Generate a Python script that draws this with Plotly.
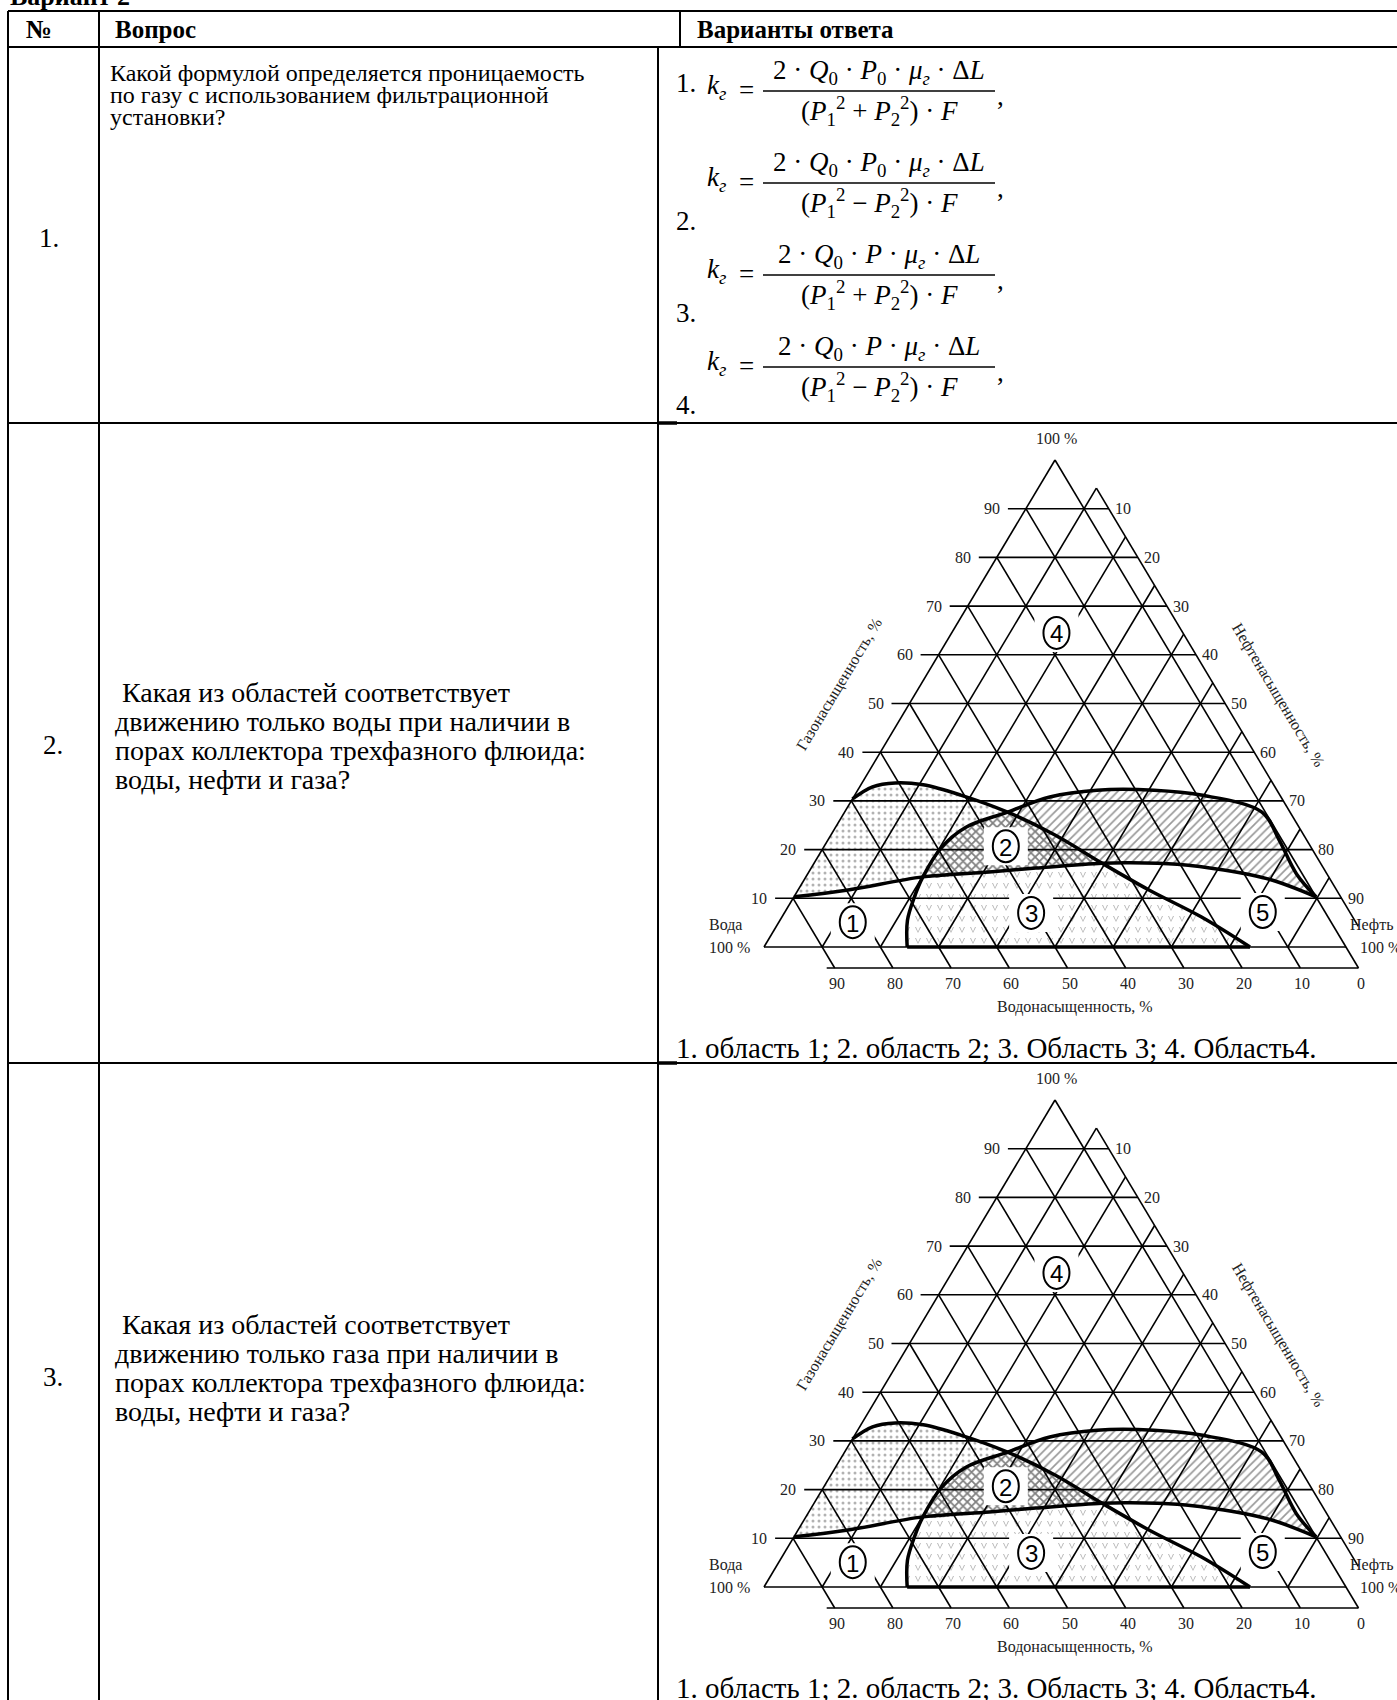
import plotly.graph_objects as go

SERIF = 'Liberation Serif'

# ---------------- table text ----------------
header_titles = ['№', 'Вопрос', 'Варианты ответа']
row_numbers = ['1.', '2.', '3.']
question_1 = ['Какой формулой определяется проницаемость',
              'по газу с использованием фильтрационной',
              'установки?']
question_2 = [' Какая из областей соответствует',
              'движению только воды при наличии в',
              'порах коллектора трехфазного флюида:',
              'воды, нефти и газа?']
question_3 = [' Какая из областей соответствует',
              'движению только газа при наличии в',
              'порах коллектора трехфазного флюида:',
              'воды, нефти и газа?']
answer_line = '1. область 1; 2. область 2; 3. Область 3; 4. Область4.'

# ---------------- formula answers ----------------
formula_numbers = ['1.', '2.', '3.', '4.']
numerators = [
    '2 · <i>Q</i><sub>0</sub> · <i>P</i><sub>0</sub> · <i>μ</i><sub><i>г</i></sub> · Δ<i>L</i>',
    '2 · <i>Q</i><sub>0</sub> · <i>P</i><sub>0</sub> · <i>μ</i><sub><i>г</i></sub> · Δ<i>L</i>',
    '2 · <i>Q</i><sub>0</sub> · <i>P</i> · <i>μ</i><sub><i>г</i></sub> · Δ<i>L</i>',
    '2 · <i>Q</i><sub>0</sub> · <i>P</i> · <i>μ</i><sub><i>г</i></sub> · Δ<i>L</i>',
]
denominators = [
    '(<i>P</i><sub>1</sub><sup>2</sup> + <i>P</i><sub>2</sub><sup>2</sup>) · <i>F</i>',
    '(<i>P</i><sub>1</sub><sup>2</sup> − <i>P</i><sub>2</sub><sup>2</sup>) · <i>F</i>',
    '(<i>P</i><sub>1</sub><sup>2</sup> + <i>P</i><sub>2</sub><sup>2</sup>) · <i>F</i>',
    '(<i>P</i><sub>1</sub><sup>2</sup> − <i>P</i><sub>2</sub><sup>2</sup>) · <i>F</i>',
]

# ---------------- ternary diagram data (oil %, gas %) ----------------
gas_ticks = [10, 20, 30, 40, 50, 60, 70, 80, 90]
oil_ticks = [10, 20, 30, 40, 50, 60, 70, 80, 90]
water_ticks = [90, 80, 70, 60, 50, 40, 30, 20, 10, 0]

# long low arch
curve_a = [(0, 10.3), (8.6, 11.7), (20.1, 14.4), (31.0, 15.4), (38.6, 16.2), (49.5, 17.2),
           (54.3, 17.3), (62.5, 17.0), (71.1, 15.8), (80.2, 13.8), (89.7, 10.3)]
# left dome going down to the base
curve_b = [(0, 30.4), (2.2, 32.9), (5.7, 33.7), (10.7, 33.3), (18.2, 31.2), (28.0, 27.7),
           (38.5, 23.0), (49.5, 17.2), (60.3, 11.7), (72.0, 6.2), (83.5, 0)]
# boundary rising from the base and arching to the right
curve_c = [(24.6, 0), (21.9, 5.5), (20.7, 10.3), (20.1, 14.4), (20.3, 20.5), (22.4, 24.6),
           (28.0, 27.7), (33.7, 30.8), (41.1, 32.2), (50.9, 32.2), (59.5, 31.2), (71.7, 27.7),
           (77.5, 22.0), (84.0, 15.0), (89.7, 10.3)]

zone_names = ['1', '2', '3', '4', '5']
zone_oil = [12.7, 31.2, 42.4, 18.0, 82.1]
zone_gas = [5.1, 20.7, 7.0, 64.5, 7.2]

# ---------------- geometry ----------------
W, H = 1397, 1700
TOP, HEAD, ROW1, ROW2 = 11, 47, 423, 1063
XL, XC1, XC2, XHEAD = 8, 99, 658, 680
ROW_SHIFT = 640
TEXT_SHIFT = 632
BARS = [91, 183, 275, 367]

LEFT, WIDTH, HEIGHT = 764, 582, 487
BASES = [947, 947 + ROW_SHIFT]
EXT_L = 18                 # gas lines beyond left edge
OFF_R = (12.3, -20.6)      # oil lines beyond right edge
OFF_B = (12.5, 21.0)       # water lines below base


def tern(so, g, base):
    return LEFT + (so + g / 2.0) / 100.0 * WIDTH, base - g / 100.0 * HEIGHT


def to_xy(points, base):
    pts = [tern(so, g, base) for so, g in points]
    return [p[0] for p in pts], [p[1] for p in pts]


fig = go.Figure()


def text(x, y, s, size, anchor='left', bold=False, angle=0, color='black'):
    if bold:
        s = '<b>' + s + '</b>'
    fig.add_annotation(x=x, y=y, text=s, showarrow=False, xanchor=anchor, yanchor='middle',
                       textangle=angle, font=dict(family=SERIF, size=size, color=color))


def hline(x0, x1, y, w=2):
    fig.add_shape(type='line', x0=x0, x1=x1, y0=y, y1=y, line=dict(color='black', width=w))


def vline(x, y0, y1, w=2):
    fig.add_shape(type='line', x0=x, x1=x, y0=y0, y1=y1, line=dict(color='black', width=w))


# ---------------- table ----------------
for y in [TOP, HEAD, ROW1, ROW2]:
    hline(XL, W, y)
vline(XL, TOP, H)
vline(XC1, TOP, H)
vline(XHEAD, TOP, HEAD)
vline(XC2, HEAD, H)
hline(XC2, XC2 + 19, ROW1, 3.5)
hline(XC2, XC2 + 19, ROW2, 3.5)

fig.add_annotation(x=XL, y=13, text='<b>Вариант 2</b>', showarrow=False, xanchor='left',
                   yanchor='bottom', font=dict(family=SERIF, size=26, color='black'))
text(39, 29, header_titles[0], 26, 'center', bold=True)
text(113, 29, header_titles[1], 25, bold=True)
text(695, 29, header_titles[2], 25, bold=True)

text(49, 238, row_numbers[0], 27, 'center')
text(53, 745, row_numbers[1], 27, 'center')
text(53, 745 + TEXT_SHIFT, row_numbers[2], 27, 'center')

for i, line in enumerate(question_1):
    text(108, 73 + 22 * i, line, 24)
for i, line in enumerate(question_2):
    text(113, 692 + 29 * i, line, 28)
for i, line in enumerate(question_3):
    text(113, 692 + TEXT_SHIFT + 29 * i, line, 28)

# formulas
for i, by in enumerate(BARS):
    if i == 0:
        text(674, by - 8, formula_numbers[i], 27)
    else:
        text(674, by + 38, formula_numbers[i], 27)
    text(705, by - 4, '<i>k</i><sub><i>г</i></sub>', 27)
    text(746, by - 1, '=', 27, 'center')
    text(879, by - 19, numerators[i], 27, 'center')
    text(879, by + 20, denominators[i], 27, 'center')
    hline(763, 995, by, 1.5)
    text(1000, by + 5, ',', 27, 'center')

# ---------------- ternary diagrams ----------------
region_dots = curve_b[:6] + curve_c[3:6][::-1] + curve_a[:3][::-1]
region_cross = curve_c[3:7] + curve_b[5:8] + curve_a[2:6][::-1]
region_hatch = curve_c[6:] + curve_a[5:][::-1] + curve_b[5:8][::-1]
region_vees = curve_c[:4] + curve_a[2:6] + curve_b[7:]

patterns = [
    (region_dots, dict(shape='.', size=6, solidity=0.2, fgcolor='#666666', bgcolor='white')),
    (region_vees, dict(path='M2,3L5,9L8,3L7,3L5,7.4L3,3Z', size=11, fgcolor='#666666', bgcolor='white')),
    (region_cross, dict(shape='x', size=6, solidity=0.5, fgcolor='#000000', bgcolor='white')),
    (region_hatch, dict(shape='/', size=6, solidity=0.28, fgcolor='#333333', bgcolor='white')),
]

for base in BASES:
    for pts, pat in patterns:
        xs, ys = to_xy(pts, base)
        fig.add_trace(go.Scatter(x=xs, y=ys, mode='lines', fill='toself', fillcolor='white',
                                 fillpattern=pat, hoverinfo='skip',
                                 line=dict(width=0, shape='spline', smoothing=0.6)))

    # grid
    gx, gy = [], []

    def seg(p, q):
        gx.extend([p[0], q[0], None])
        gy.extend([p[1], q[1], None])

    for g in gas_ticks:
        p = tern(0, g, base)
        q = tern(100 - g, g, base)
        seg((p[0] - EXT_L, p[1]), (q[0] + 2 * OFF_R[0], q[1]))
    for so in oil_ticks:
        q = tern(so, 100 - so, base)
        seg(tern(so, 0, base), (q[0] + OFF_R[0], q[1] + OFF_R[1]))
    for sw in water_ticks:
        q = tern(100 - sw, 0, base)
        seg(tern(0, 100 - sw, base), (q[0] + OFF_B[0], q[1] + OFF_B[1]))
    seg(tern(0, 100, base), tern(0, 0, base))
    seg(tern(0, 0, base), tern(100, 0, base))
    t = tern(oil_ticks[0], 100 - oil_ticks[0], base)
    v = tern(100, 0, base)
    seg((t[0] + OFF_R[0], t[1] + OFF_R[1]), (v[0] + OFF_R[0], v[1] + OFF_R[1]))
    f90 = tern(100 - water_ticks[0], 0, base)
    f0 = tern(100 - water_ticks[-1], 0, base)
    seg((f90[0] + OFF_B[0] - 8, base + OFF_B[1]), (f0[0] + OFF_B[0], base + OFF_B[1]))
    fig.add_trace(go.Scatter(x=gx, y=gy, mode='lines', hoverinfo='skip',
                             line=dict(color='black', width=1.6)))

    # thick boundaries
    for crv in [curve_a, curve_b, curve_c]:
        xs, ys = to_xy(crv, base)
        fig.add_trace(go.Scatter(x=xs, y=ys, mode='lines', hoverinfo='skip',
                                 line=dict(color='black', width=3.5, shape='spline', smoothing=1.0)))
    xs, ys = to_xy([curve_c[0], curve_b[-1]], base)
    fig.add_trace(go.Scatter(x=xs, y=ys, mode='lines', hoverinfo='skip',
                             line=dict(color='black', width=3.5)))

    # tick labels
    for g in gas_ticks:
        x, y = tern(0, g, base)
        text(x - EXT_L - 6, y, str(g), 16, 'right', color='#222222')
        x, y = tern(100 - g, g, base)
        text(x + 2 * OFF_R[0] + 4, y, str(100 - g), 16, 'left', color='#222222')
    for sw in water_ticks:
        x, y = tern(100 - sw, 0, base)
        text(x + OFF_B[0] + 2, y + OFF_B[1] + 15, str(sw), 16, 'center', color='#222222')

    ax, ay = tern(0, 100, base)
    text(ax + 1, ay - 22, '100 %', 16, 'center', color='#222222')
    text(707, base - 22, 'Вода', 16, color='#222222')
    text(707, base, '100 %', 16, color='#222222')
    text(1348, base - 22, 'Нефть', 16, color='#222222')
    text(1358, base, '100 %', 16, color='#222222')
    text(1075, base + 60, 'Водонасыщенность, %', 16, 'center', color='#222222')
    text(839, base - 262, 'Газонасыщенность, %', 16, 'center', angle=-59, color='#222222')
    text(1278, base - 252, 'Нефтенасыщенность, %', 16, 'center', angle=59, color='#222222')

    # circled zone numbers
    for name, so, g in zip(zone_names, zone_oil, zone_gas):
        x, y = tern(so, g, base)
        fig.add_shape(type='rect', x0=x - 22, x1=x + 22, y0=y - 19, y1=y + 19,
                      fillcolor='white', line=dict(width=0), layer='above')
        fig.add_shape(type='circle', x0=x - 13, x1=x + 13, y0=y - 16, y1=y + 16,
                      fillcolor='white', line=dict(color='black', width=2), layer='above')
        fig.add_annotation(x=x, y=y + 1, text=name, showarrow=False, xanchor='center', yanchor='middle',
                           font=dict(family='Liberation Sans', size=24, color='black'))

    text(674, base + 101, answer_line, 29)

fig.update_layout(
    width=W, height=H,
    margin=dict(l=0, r=0, t=0, b=0, pad=0),
    xaxis=dict(range=[0, W], visible=False),
    yaxis=dict(range=[H, 0], visible=False),
    plot_bgcolor='white', paper_bgcolor='white',
    showlegend=False,
)

fig.write_html('out.html', config={'displayModeBar': False},
               post_script="document.body.style.margin='0';")
